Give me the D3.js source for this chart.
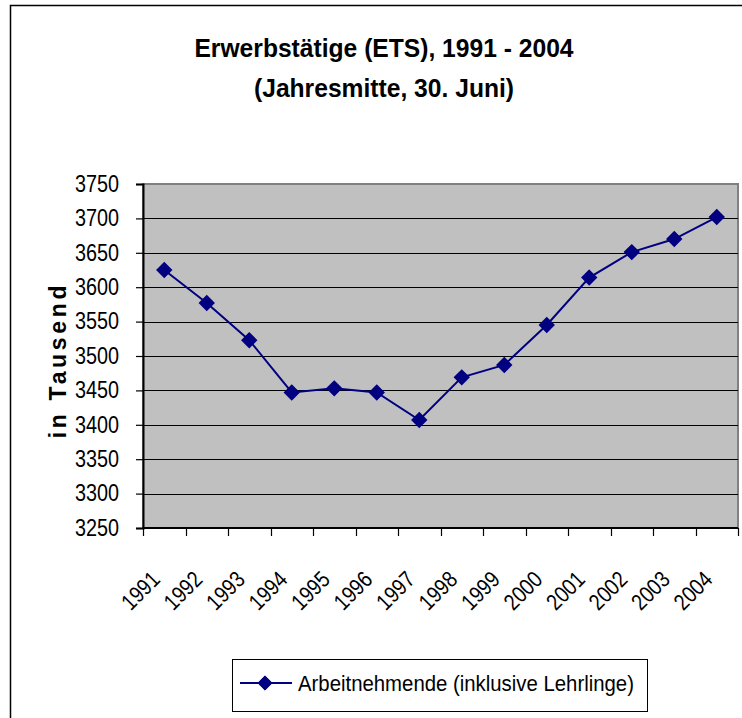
<!DOCTYPE html>
<html>
<head>
<meta charset="utf-8">
<script src="https://cdn.jsdelivr.net/npm/d3@7"></script>
<style>
  body { margin: 0; background: #fff; }
  svg text { font-family: "Liberation Sans", Arial, sans-serif; }
</style>
</head>
<body>
<div id="chart"></div>
<script>
// data
var years = ["1991","1992","1993","1994","1995","1996","1997","1998","1999","2000","2001","2002","2003","2004"];
var employees = [3625, 3577, 3523, 3447, 3453, 3447, 3407, 3469, 3487, 3545, 3614, 3651, 3670, 3702];
var yTicks = [3250, 3300, 3350, 3400, 3450, 3500, 3550, 3600, 3650, 3700, 3750];
var titleLines = ["Erwerbstätige (ETS), 1991 - 2004", "(Jahresmitte, 30. Juni)"];
var yTitle = "in Tausend";
var seriesName = "Arbeitnehmende (inklusive Lehrlinge)";

var width = 742, height = 718;
var plot = {left: 143, top: 184, right: 738, bottom: 528};
var navy = "#000080";

// squeeze text horizontally to mimic a narrow font
function narrow(sel, f) {
    sel.each(function() {
        var w = this.getComputedTextLength();
        d3.select(this).attr("textLength", w * f).attr("lengthAdjust", "spacingAndGlyphs");
    });
}

var svg = d3.select("#chart").append("svg")
    .attr("width", width)
    .attr("height", height);

// outer frame (runs off right/bottom edge)
svg.append("rect")
    .attr("x", 10.5).attr("y", 5.5)
    .attr("width", 800).attr("height", 800)
    .attr("fill", "#fff")
    .attr("stroke", "#000")
    .attr("stroke-width", 1.5);

// title
svg.selectAll("text.title")
    .data(titleLines)
    .enter().append("text")
    .attr("class", "title")
    .attr("x", 384)
    .attr("y", function(d, i) { return 57 + i * 40; })
    .attr("text-anchor", "middle")
    .attr("font-size", 25)
    .attr("font-weight", "bold")
    .attr("fill", "#000")
    .text(function(d) { return d; })
    .call(narrow, 0.985);

var x = d3.scaleBand()
    .domain(years)
    .range([plot.left, plot.right])
    .padding(0);

var y = d3.scaleLinear()
    .domain([3250, 3750])
    .range([plot.bottom, plot.top]);

// plot background
svg.append("rect")
    .attr("x", plot.left).attr("y", plot.top)
    .attr("width", plot.right - plot.left)
    .attr("height", plot.bottom - plot.top)
    .attr("fill", "#c0c0c0")
    .attr("stroke", "#808080")
    .attr("stroke-width", 2);

// grid lines
svg.append("g")
    .selectAll("line")
    .data(yTicks.slice(1, -1))
    .enter().append("line")
    .attr("x1", plot.left).attr("x2", plot.right)
    .attr("y1", function(d) { return Math.round(y(d)) + 0.5; })
    .attr("y2", function(d) { return Math.round(y(d)) + 0.5; })
    .attr("stroke", "#000")
    .attr("stroke-width", 1.2);

// y axis
var yAxis = svg.append("g")
    .attr("transform", "translate(" + plot.left + ",0)")
    .call(d3.axisLeft(y).tickValues(yTicks).tickSize(7).tickPadding(17).tickFormat(d3.format("d")));
yAxis.select(".domain").attr("stroke", "#000").attr("stroke-width", 2);
yAxis.selectAll(".tick line").attr("stroke", "#000").attr("stroke-width", 1.2);
yAxis.selectAll(".tick text")
    .attr("font-size", 23)
    .attr("fill", "#000")
    .attr("font-family", null)
    .call(narrow, 0.86);

// x axis: ticks at category boundaries
var bounds = years.map(function(d) { return x(d); }).concat([plot.right]);
svg.append("g")
    .selectAll("line")
    .data(bounds)
    .enter().append("line")
    .attr("x1", function(d) { return Math.round(d) + 0.5; })
    .attr("x2", function(d) { return Math.round(d) + 0.5; })
    .attr("y1", plot.bottom).attr("y2", plot.bottom + 8)
    .attr("stroke", "#000")
    .attr("stroke-width", 1.2);

svg.append("line")
    .attr("x1", plot.left).attr("x2", plot.right)
    .attr("y1", plot.bottom).attr("y2", plot.bottom)
    .attr("stroke", "#000")
    .attr("stroke-width", 2);

svg.append("g")
    .selectAll("text")
    .data(years)
    .enter().append("text")
    .attr("transform", function(d) {
        return "translate(" + (x(d) + x.bandwidth() / 2 - 3) + "," + (plot.bottom + 53) + ") rotate(-45)";
    })
    .attr("text-anchor", "end")
    .attr("font-size", 23)
    .attr("fill", "#000")
    .text(function(d) { return d; })
    .call(narrow, 0.84);

// y axis title
svg.append("text")
    .attr("transform", "translate(66," + ((plot.top + plot.bottom) / 2 + 4) + ") rotate(-90)")
    .attr("text-anchor", "middle")
    .attr("font-size", 23)
    .attr("font-weight", "bold")
    .attr("letter-spacing", 3.7)
    .attr("fill", "#000")
    .text(yTitle);

// series line
var line = d3.line()
    .x(function(d, i) { return x(years[i]) + x.bandwidth() / 2; })
    .y(function(d) { return y(d); });

svg.append("path")
    .datum(employees)
    .attr("d", line)
    .attr("fill", "none")
    .attr("stroke", navy)
    .attr("stroke-width", 2);

var diamond = d3.symbol().type(d3.symbolDiamond2).size(130);
svg.append("g")
    .selectAll("path")
    .data(employees)
    .enter().append("path")
    .attr("d", diamond)
    .attr("transform", function(d, i) {
        return "translate(" + (x(years[i]) + x.bandwidth() / 2) + "," + y(d) + ")";
    })
    .attr("fill", navy)
    .attr("stroke", navy)
    .attr("stroke-width", 1.5);

// legend
var lg = svg.append("g").attr("transform", "translate(232,659)");
lg.append("rect")
    .attr("x", 0.5).attr("y", 0.5)
    .attr("width", 415).attr("height", 52)
    .attr("fill", "#fff")
    .attr("stroke", "#000")
    .attr("stroke-width", 1);
lg.append("line")
    .attr("x1", 8).attr("x2", 60)
    .attr("y1", 24).attr("y2", 24)
    .attr("stroke", navy)
    .attr("stroke-width", 2);
lg.append("path")
    .attr("d", diamond)
    .attr("transform", "translate(33,24)")
    .attr("fill", navy)
    .attr("stroke", navy)
    .attr("stroke-width", 1);
lg.append("text")
    .attr("x", 66).attr("y", 32)
    .attr("font-size", 22)
    .attr("fill", "#000")
    .text(seriesName)
    .call(narrow, 0.925);
</script>
</body>
</html>
